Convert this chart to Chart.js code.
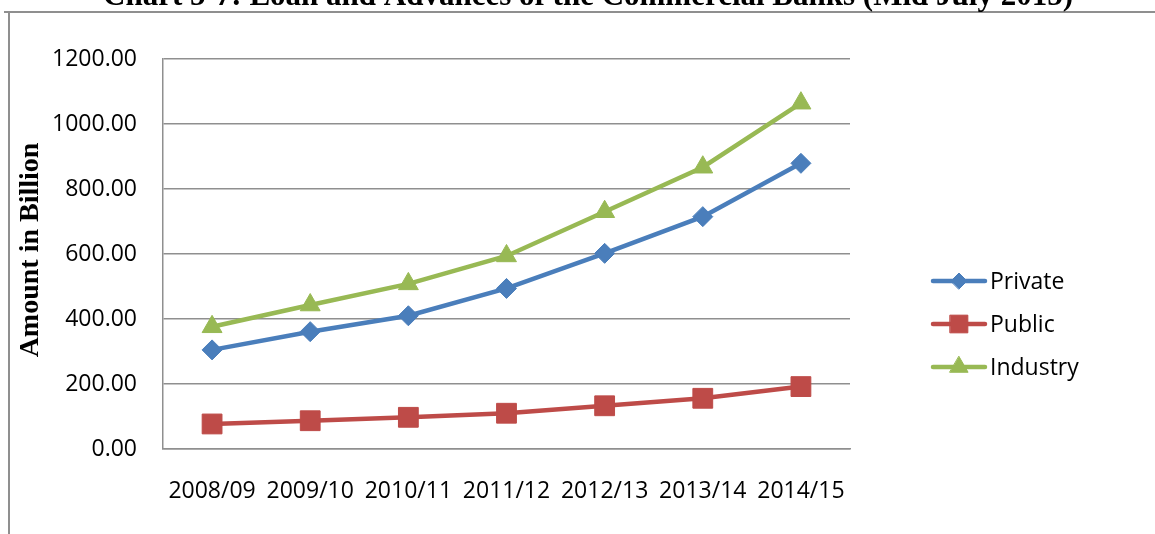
<!DOCTYPE html>
<html>
<head>
<meta charset="utf-8">
<script src="https://cdn.jsdelivr.net/npm/chart.js@4/dist/chart.umd.min.js"></script>
<style>
  html, body { margin: 0; padding: 0; background: #fff; }
  #wrap { width: 1155px; height: 534px; }
</style>
</head>
<body>
<div id="wrap"><canvas id="c" width="1155" height="534"></canvas></div>
<script>
// Loans and advances of commercial banks, in billions
const years = ['2008/09', '2009/10', '2010/11', '2011/12', '2012/13', '2013/14', '2014/15'];
const privateSector = [305, 361, 410, 494, 602, 715, 879];
const publicSector = [77, 87, 97.5, 110, 133, 156, 192];
const industry = [376, 443, 508, 594, 730, 867, 1064];
const yTicks = [0, 200, 400, 600, 800, 1000, 1200];

const chartTitle = 'Chart 5-7: Loan and Advances of the Commercial Banks (Mid July 2015)';
const yTitle = 'Amount in Billion';

const BLUE = '#4A7EBB', RED = '#BE4B48', GREEN = '#98B954';
const GRID = '#8f8f8f';
const SANS = '"Open Sans", Lato, sans-serif';
const SERIF = '"Liberation Serif", "Times New Roman", serif';

// Outer frame, cut-off title, rotated axis title and a line+marker legend
const decorations = {
  id: 'decorations',
  beforeDraw(chart) {
    const ctx = chart.ctx;
    ctx.save();
    ctx.strokeStyle = GRID;
    ctx.lineWidth = 2;
    ctx.beginPath();
    ctx.moveTo(4, 12); ctx.lineTo(1155, 12);
    ctx.moveTo(9, 12); ctx.lineTo(9, 534);
    ctx.stroke();
    ctx.restore();
  },
  afterDraw(chart) {
    const ctx = chart.ctx;
    ctx.save();
    ctx.fillStyle = '#000';
    ctx.font = 'bold 31px ' + SERIF;
    ctx.textAlign = 'center';
    ctx.textBaseline = 'alphabetic';
    ctx.fillText(chartTitle, 588, 5);

    ctx.font = 'bold 28px ' + SERIF;
    ctx.translate(31, 250);
    ctx.rotate(-Math.PI / 2);
    ctx.textBaseline = 'middle';
    ctx.fillText(yTitle, 0, 0);
    ctx.restore();

    // legend
    const rows = [281, 324, 367];
    chart.data.datasets.forEach((ds, i) => {
      const y = rows[i];
      ctx.save();
      ctx.strokeStyle = ds.borderColor;
      ctx.lineWidth = 4.5;
      ctx.lineCap = 'round';
      ctx.beginPath();
      ctx.moveTo(933, y); ctx.lineTo(985, y);
      ctx.stroke();
      ctx.fillStyle = ds.borderColor;
      ctx.strokeStyle = ds.borderColor;
      ctx.lineWidth = 1;
      Chart.helpers.drawPoint(ctx, {
        pointStyle: ds.pointStyle,
        radius: ds.legendRadius,
        borderWidth: 1,
        rotation: 0
      }, 959, y);
      ctx.fillStyle = '#000';
      ctx.font = '23px ' + SANS;
      ctx.textAlign = 'left';
      ctx.textBaseline = 'middle';
      ctx.fillText(ds.label, 990, y + 1);
      ctx.restore();
    });
  }
};

const series = (label, data, color, style, radius, legendRadius) => ({
  label, data,
  borderColor: color,
  backgroundColor: color,
  borderWidth: 4.5,
  pointStyle: style,
  pointRadius: radius,
  pointHoverRadius: radius,
  pointBorderWidth: 1,
  pointBackgroundColor: color,
  pointBorderColor: color,
  legendRadius,
  tension: 0
});

new Chart(document.getElementById('c'), {
  type: 'line',
  data: {
    labels: years,
    datasets: [
      series('Private', privateSector, BLUE, 'rectRot', 10, 8),
      series('Public', publicSector, RED, 'rect', 14, 12.5),
      series('Industry', industry, GREEN, 'triangle', 11.5, 10.5)
    ]
  },
  options: {
    responsive: false,
    devicePixelRatio: 1,
    animation: false,
    layout: { padding: { top: 59, right: 305, left: 0, bottom: 0 } },
    plugins: { legend: { display: false }, title: { display: false }, tooltip: { enabled: false } },
    scales: {
      x: {
        offset: true,
        grid: { display: false, drawTicks: false },
        border: { display: true, color: GRID, width: 1.5 },
        ticks: { color: '#000', font: { family: SANS, size: 23 }, padding: 29, maxRotation: 0, autoSkip: false },
        afterFit(scale) { scale.height = 85; }
      },
      y: {
        min: 0, max: 1200,
        afterBuildTicks(scale) { scale.ticks = yTicks.map(v => ({ value: v })); },
        grid: { color: GRID, lineWidth: 1.5, drawTicks: false },
        border: { display: true, color: GRID, width: 1.5 },
        ticks: { color: '#000', font: { family: SANS, size: 23 }, padding: 26, callback: v => Number(v).toFixed(2) },
        afterFit(scale) { scale.width = 163; }
      }
    }
  },
  plugins: [decorations]
});
</script>
</body>
</html>
